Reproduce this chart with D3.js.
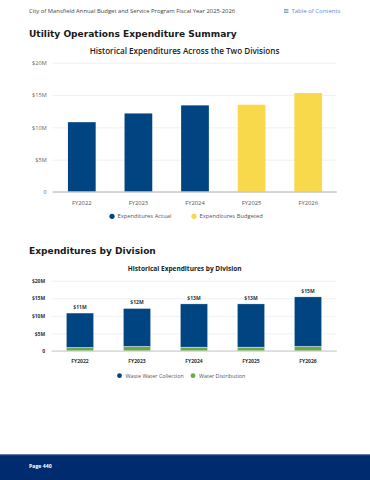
<!DOCTYPE html>
<html><head><meta charset="utf-8">
<script src="https://cdn.jsdelivr.net/npm/d3@7"></script>
<style>
html,body{margin:0;padding:0;background:#fff;}
svg{display:block;font-family:"Open Sans",sans-serif;}
</style></head>
<body>
<svg id="c" width="370" height="480"></svg>
<script>
const years = ["FY2022","FY2023","FY2024","FY2025","FY2026"];
const totalExp = [10.8, 12.15, 13.4, 13.5, 15.3];
const expType = ["Actual","Actual","Actual","Budgeted","Budgeted"];
const wasteWater = [9.8, 10.8, 12.3, 12.3, 14.1];
const waterDist = [1.0, 1.3, 1.1, 1.1, 1.3];
const divLabels = ["$11M","$12M","$13M","$13M","$15M"];
const yTicks = [0, 5, 10, 15, 20];
const yTickLabels = ["0","$5M","$10M","$15M","$20M"];
const legend1 = ["Expenditures Actual","Expenditures Budgeted"];
const legend2 = ["Waste Water Collection","Water Distribution"];

const NAVY="#004481", YELLOW="#f7d94b", GREEN="#6aaa4b";
const HEAD='"DejaVu Sans",sans-serif';
const svg = d3.select("#c");

function fit(sel, w){ const n=sel.node(); const L=n.getComputedTextLength(); const fs=parseFloat(sel.attr("font-size")); sel.attr("font-size", fs*w/L); return sel; }

// header
fit(svg.append("text").attr("x",29).attr("y",13).attr("font-size",6).attr("fill","#444")
  .text("City of Mansfield Annual Budget and Service Program Fiscal Year 2025-2026"),207);
svg.append("g").selectAll("rect").data([0,1,2]).join("rect")
  .attr("x",284).attr("y",d=>9+d*1.6).attr("width",4.5).attr("height",0.8).attr("fill","#5b8fd0");
fit(svg.append("text").attr("x",291.5).attr("y",13.3).attr("font-size",6).attr("fill","#5b8fd0").text("Table of Contents"),49);

fit(svg.append("text").attr("x",29).attr("y",36.5).attr("font-size",12).attr("font-weight",700).attr("fill","#1a1a1a").attr("font-family",HEAD)
  .text("Utility Operations Expenditure Summary"),208);

// chart 1
fit(svg.append("text").attr("x",184.5).attr("y",54.3).attr("text-anchor","middle").attr("font-size",8).attr("font-weight",600).attr("fill","#222")
  .text("Historical Expenditures Across the Two Divisions"),190);

const x1 = d3.scaleBand().domain(years).range([53.5,336.5]).paddingInner(0.51).paddingOuter(0.255);
const y1 = d3.scaleLinear().domain([0,20]).range([192,62.7]);
const g1 = svg.append("g");
g1.append("g").call(d3.axisLeft(y1).tickValues(yTicks).tickSize(-(336.7-52.7)).tickFormat((d,i)=>yTickLabels[i]))
  .attr("transform","translate(52.7,0)")
  .call(g=>g.select(".domain").remove())
  .call(g=>g.selectAll(".tick line").attr("stroke","#ececec").attr("stroke-width",0.8))
  .call(g=>g.selectAll(".tick text").attr("x",-6).attr("font-size",5.6).attr("fill","#666").attr("font-family","Open Sans"));
g1.selectAll("rect.bar").data(years).join("rect").attr("class","bar")
  .attr("x",d=>x1(d)).attr("width",x1.bandwidth())
  .attr("y",(d,i)=>y1(totalExp[i])).attr("height",(d,i)=>y1(0)-y1(totalExp[i]))
  .attr("fill",(d,i)=>expType[i]==="Actual"?NAVY:YELLOW);
g1.append("line").attr("x1",52.7).attr("x2",336.7).attr("y1",y1(0)).attr("y2",y1(0)).attr("stroke","#c8c8c8").attr("stroke-width",1.3);
g1.append("g").attr("transform",`translate(0,${y1(0)})`).call(d3.axisBottom(x1).tickSize(0))
  .call(g=>g.select(".domain").remove())
  .call(g=>g.selectAll(".tick text").attr("dy",0).attr("y",12.5).attr("font-size",5.8).attr("fill","#555").attr("font-family","Open Sans"));
const lg1 = [{x:112,label:legend1[0],c:NAVY},{x:194,label:legend1[1],c:YELLOW}];
lg1.forEach(l=>{
  g1.append("circle").attr("cx",l.x).attr("cy",216.3).attr("r",2.6).attr("fill",l.c);
  g1.append("text").attr("x",l.x+5.5).attr("y",218.3).attr("font-size",5.8).attr("fill","#555").text(l.label);
});

// section 2
fit(svg.append("text").attr("x",29).attr("y",253.5).attr("font-size",12).attr("font-weight",700).attr("fill","#1a1a1a").attr("font-family",HEAD)
  .text("Expenditures by Division"),127);
fit(svg.append("text").attr("x",184.7).attr("y",271.3).attr("text-anchor","middle").attr("font-size",6.5).attr("font-weight",700).attr("fill","#222")
  .text("Historical Expenditures by Division"),114);

const x2 = d3.scaleBand().domain(years).range([51.5,336.5]).paddingInner(0.52).paddingOuter(0.26);
const y2 = d3.scaleLinear().domain([0,20]).range([351,280.7]);
const g2 = svg.append("g");
g2.append("g").call(d3.axisLeft(y2).tickValues(yTicks).tickSize(-(336.7-51.7)).tickFormat((d,i)=>yTickLabels[i]))
  .attr("transform","translate(51.7,0)")
  .call(g=>g.select(".domain").remove())
  .call(g=>g.selectAll(".tick line").attr("stroke","#ececec").attr("stroke-width",0.8))
  .call(g=>g.selectAll(".tick text").attr("x",-6.5).attr("font-size",5).attr("font-weight",700).attr("fill","#333").attr("font-family","Open Sans"));
const stackData = years.map((y,i)=>({year:y, water:waterDist[i], waste:wasteWater[i]}));
const stack = d3.stack().keys(["water","waste"])(stackData);
const colors2 = {water:GREEN, waste:NAVY};
stack.forEach(s=>{
  g2.append("g").selectAll("rect").data(s).join("rect")
    .attr("x",d=>x2(d.data.year)).attr("width",x2.bandwidth())
    .attr("y",d=>y2(d[1])).attr("height",d=>y2(d[0])-y2(d[1]))
    .attr("fill",colors2[s.key]).attr("stroke","#fff").attr("stroke-width",0.4);
});
g2.selectAll("text.val").data(stackData).join("text").attr("class","val")
  .attr("x",d=>x2(d.year)+x2.bandwidth()/2).attr("y",d=>y2(d.water+d.waste)-4)
  .attr("text-anchor","middle").attr("font-size",5).attr("font-weight",700).attr("fill","#333")
  .text((d,i)=>divLabels[i]);
g2.append("line").attr("x1",51.7).attr("x2",336.7).attr("y1",y2(0)).attr("y2",y2(0)).attr("stroke","#c8c8c8").attr("stroke-width",1);
g2.append("g").attr("transform",`translate(0,${y2(0)})`).call(d3.axisBottom(x2).tickSize(0))
  .call(g=>g.select(".domain").remove())
  .call(g=>g.selectAll(".tick text").attr("dy",0).attr("y",11.5).attr("font-size",5).attr("font-weight",700).attr("fill","#333").attr("font-family","Open Sans"));
const lg2 = [{x:119.5,label:legend2[0],c:NAVY},{x:193,label:legend2[1],c:GREEN}];
lg2.forEach(l=>{
  g2.append("circle").attr("cx",l.x).attr("cy",375.7).attr("r",2.4).attr("fill",l.c);
  g2.append("text").attr("x",l.x+6).attr("y",377.6).attr("font-size",5.4).attr("fill","#555").text(l.label);
});

// footer
svg.append("rect").attr("x",0).attr("y",454.5).attr("width",370).attr("height",25.5).attr("fill","#002b6f");
svg.append("rect").attr("x",0).attr("y",454.5).attr("width",370).attr("height",0.8).attr("fill","#3e5f95");
svg.append("text").attr("x",29).attr("y",467.5).attr("font-size",5.2).attr("font-weight",700).attr("fill","#fff").text("Page 440");
</script>
</body></html>
